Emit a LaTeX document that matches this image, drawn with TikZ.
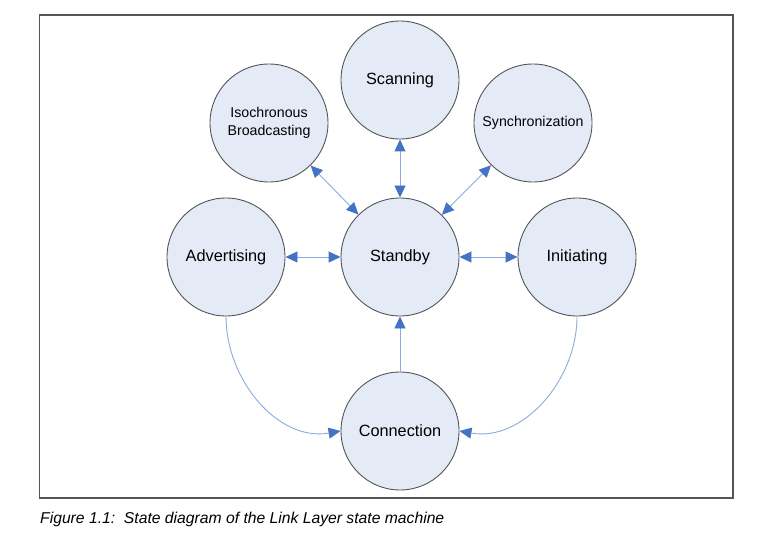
\documentclass[tikz,border=0pt]{standalone}
\usepackage{fontspec}
\setmainfont{Liberation Sans}
\usetikzlibrary{arrows.meta}
\definecolor{cfill}{RGB}{228,235,247}
\definecolor{cline}{RGB}{85,85,85}
\definecolor{aline}{RGB}{143,170,220}
\definecolor{atip}{RGB}{68,114,196}
\tikzset{mytip/.tip={Triangle[length=12pt,width=11pt,color=atip]}}
\begin{document}
\begin{tikzpicture}[x=1pt,y=-1pt,
  state/.style={circle,draw=cline,line width=0.9pt,fill=cfill,minimum size=118pt,inner sep=0pt,align=center,font=\fontsize{16.3}{19}\selectfont},
  small/.style={font=\fontsize{14.2}{17.4}\selectfont},
  conn/.style={draw=aline,line width=0.9pt},
  both/.style={conn,mytip-mytip},
  single/.style={conn,-mytip}]
\useasboundingbox (0,0) rectangle (775,537);
\draw[cline,line width=1.6pt] (39.5,15) rectangle (733,498);
\node[state] (scan) at (400,80) {Scanning};
\node[state,small] (iso) at (269,123) {Isochronous\\Broadcasting};
\node[state,small] (sync) at (533,123) {Synchronization};
\node[state] (adv) at (226,257) {Advertising};
\node[state] (stby) at (400,257) {Standby};
\node[state] (init) at (577,257) {Initiating};
\node[state] (con) at (400,431) {Connection};
\draw[both] (stby) -- (scan);
\draw[both] (stby) -- (iso);
\draw[both] (stby) -- (sync);
\draw[both] (stby) -- (adv);
\draw[both] (stby) -- (init);
\draw[single] (con) -- (stby);
\draw[single] (adv.south) to[out=-90,in=190] (con.west);
\draw[single] (init.south) to[out=-90,in=-10] (con.east);
\node[anchor=base west,inner sep=0pt,font=\fontsize{15.7}{18}\selectfont\itshape] (cap) at (40,523.5) {Figure 1.1:\ \ State diagram of the Link Layer state machine};
\end{tikzpicture}
\end{document}
